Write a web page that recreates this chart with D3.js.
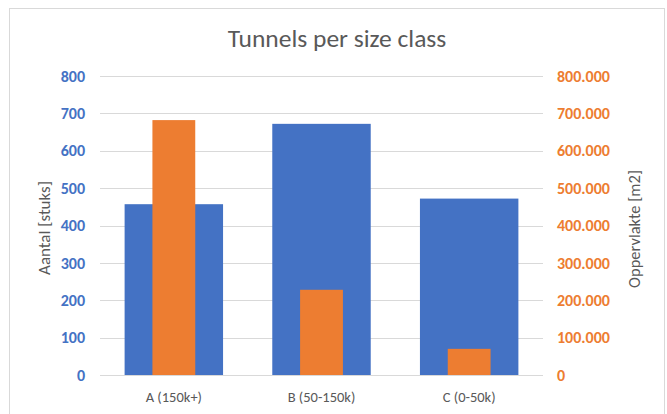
<!DOCTYPE html>
<html>
<head>
<meta charset="utf-8">
<script src="https://cdn.jsdelivr.net/npm/d3@7/dist/d3.min.js"></script>
<style>
  html, body { margin: 0; padding: 0; background: #fff; }
  svg { display: block; font-family: Carlito, Lato, "Open Sans", sans-serif; }
</style>
</head>
<body>
<svg id="chart" width="667" height="414"></svg>
<script>
// Size classes and their values
const categories = ["A (150k+)", "B (50-150k)", "C (0-50k)"];
const aantal = [457, 672, 472];              // number of tunnels
const oppervlakte = [682000, 228000, 70000]; // area in m2
const leftTicks = [0, 100, 200, 300, 400, 500, 600, 700, 800];
const rightTicks = [0, 100000, 200000, 300000, 400000, 500000, 600000, 700000, 800000];

const svg = d3.select("#chart");
const W = 667, H = 414;
const m = { left: 100, right: 124, top: 76, bottom: 39 };
const plotW = W - m.left - m.right;
const plotH = H - m.top - m.bottom;

const blue = "#4472C4", orange = "#ED7D31", grey = "#595959";
const font = "Carlito, Lato, sans-serif";

// Chart frame
svg.append("rect")
  .attr("x", 9.5).attr("y", 8.5)
  .attr("width", 655).attr("height", 420)
  .attr("fill", "#fff").attr("stroke", "#d9d9d9").attr("stroke-width", 1);

const g = svg.append("g").attr("transform", `translate(${m.left},${m.top})`);

const x = d3.scaleBand().domain(categories).range([0, plotW]).paddingInner(0).paddingOuter(0);
const yL = d3.scaleLinear().domain([0, 800]).range([plotH, 0]);
const yR = d3.scaleLinear().domain([0, 800000]).range([plotH, 0]);

// Gridlines
g.append("g").selectAll("line").data(leftTicks).join("line")
  .attr("x1", 0).attr("x2", plotW)
  .attr("y1", d => Math.round(yL(d)) + 0.5).attr("y2", d => Math.round(yL(d)) + 0.5)
  .attr("stroke", "#d9d9d9").attr("stroke-width", 1);

// Count bars (wide)
const wideW = x.bandwidth() / 1.5;
g.append("g").selectAll("rect").data(categories).join("rect")
  .attr("x", (d) => x(d) + (x.bandwidth() - wideW) / 2)
  .attr("width", wideW)
  .attr("y", (d, i) => yL(aantal[i]))
  .attr("height", (d, i) => plotH - yL(aantal[i]))
  .attr("fill", blue);

// Area bars (narrow, on the secondary axis)
const narrowW = x.bandwidth() * 0.29;
g.append("g").selectAll("rect").data(categories).join("rect")
  .attr("x", (d) => x(d) + (x.bandwidth() - narrowW) / 2)
  .attr("width", narrowW)
  .attr("y", (d, i) => yR(oppervlakte[i]))
  .attr("height", (d, i) => plotH - yR(oppervlakte[i]))
  .attr("fill", orange);

// Baseline
g.append("line")
  .attr("x1", 0).attr("x2", plotW)
  .attr("y1", plotH + 0.5).attr("y2", plotH + 0.5)
  .attr("stroke", "#d9d9d9");

// Left axis
const leftAxis = d3.axisLeft(yL).tickValues(leftTicks).tickFormat(d3.format("d")).tickSize(0).tickPadding(15);
const la = g.append("g").call(leftAxis);
la.select(".domain").remove();
la.selectAll("text").attr("fill", blue).attr("font-weight", "bold").attr("font-size", 16).attr("font-family", font);

// Right axis, Dutch thousands separator
const nl = d3.formatLocale({ decimal: ",", thousands: ".", grouping: [3], currency: ["€", ""] });
const rightAxis = d3.axisRight(yR).tickValues(rightTicks).tickFormat(nl.format(",d")).tickSize(0).tickPadding(14);
const ra = g.append("g").attr("transform", `translate(${plotW},0)`).call(rightAxis);
ra.select(".domain").remove();
ra.selectAll("text").attr("fill", orange).attr("font-weight", "bold").attr("font-size", 16).attr("font-family", font);

// Category axis
const xa = g.append("g").attr("transform", `translate(0,${plotH})`)
  .call(d3.axisBottom(x).tickSize(0).tickPadding(17));
xa.select(".domain").remove();
xa.selectAll("text").attr("fill", grey).attr("font-size", 14.5).attr("font-family", font);

// Title
svg.append("text")
  .attr("x", 337).attr("y", 47)
  .attr("text-anchor", "middle")
  .attr("fill", grey).attr("font-size", 25.5)
  .text("Tunnels per size class");

// Axis titles
svg.append("text")
  .attr("transform", `translate(50,228) rotate(-90)`)
  .attr("text-anchor", "middle")
  .attr("fill", grey).attr("font-size", 17)
  .text("Aantal [stuks]");

svg.append("text")
  .attr("transform", `translate(640,229) rotate(-90)`)
  .attr("text-anchor", "middle")
  .attr("fill", grey).attr("font-size", 16.5)
  .text("Oppervlakte [m2]");
</script>
</body>
</html>
